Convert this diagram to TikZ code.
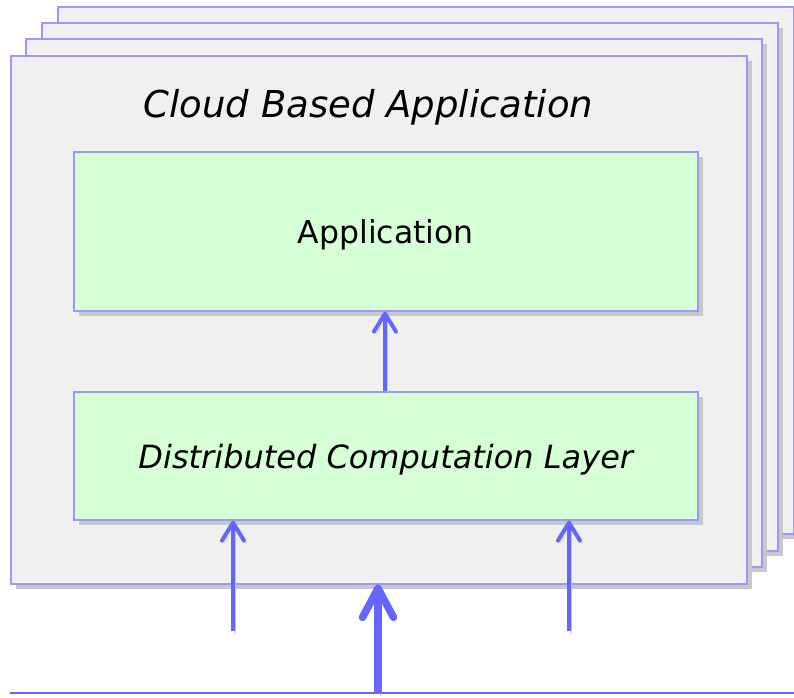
\documentclass[tikz,border=0pt]{standalone}
\usepackage{fontspec}
\setmainfont{DejaVu Sans}
\usetikzlibrary{arrows.meta,shadows}
\definecolor{edgeblue}{HTML}{9999FF}
\definecolor{arrowblue}{HTML}{6666FF}
\definecolor{panelgray}{HTML}{F0F0F0}
\definecolor{layergreen}{HTML}{D6FFD6}
\definecolor{shadowgray}{HTML}{C8C8C8}
\tikzset{
  panel/.style={draw=edgeblue, line width=1.6pt, fill=panelgray,
    general shadow={fill=shadowgray, shadow xshift=5pt, shadow yshift=-5pt}},
  layerbox/.style={draw=edgeblue, line width=1.6pt, fill=layergreen,
    general shadow={fill=shadowgray, shadow xshift=5pt, shadow yshift=-5pt},
    minimum width=624pt, anchor=north west, inner sep=0pt,
    text height=24.5pt, text depth=0pt},
  dropshade/.style={preaction={draw=shadowgray, transform canvas={shift={(2pt,-3pt)}}}},
  flow/.style={dropshade, draw=arrowblue, line width=4pt,
    -{Straight Barb[length=18pt,width=22pt,line cap=round,line join=round]}},
  bigflow/.style={dropshade, draw=arrowblue, line width=7.5pt,
    -{Straight Barb[length=29pt,width=31pt,line cap=round,line join=round]}},
}
\begin{document}
\begin{tikzpicture}[x=1pt,y=-1pt]
  \useasboundingbox (0,0) rectangle (794,697);
  % stacked instances, back to front
  \draw[panel] (58,7) rectangle (794,534);
  \draw[panel] (42,23) rectangle (778,551);
  \draw[panel] (26,39) rectangle (762,567);
  \node[panel, minimum width=736pt, minimum height=528pt, anchor=north west, inner sep=0pt]
    (cloud) at (10,55) {};
  \node[font=\fontsize{37}{40}\selectfont\itshape, anchor=base, inner sep=0pt]
    (title) at (368.5,117) {Cloud Based Application};
  % layers
  \node[layerbox, minimum height=159pt, font=\fontsize{31.5}{36}\selectfont]
    (app) at (73,151) {Application};
  \node[layerbox, minimum height=128pt, font=\fontsize{32}{36}\selectfont\itshape]
    (dcl) at (73,391) {Distributed Computation Layer};
  % base line and input points
  \coordinate (baseL) at (10,693);
  \coordinate (baseR) at (794,693);
  \coordinate (inL) at (233,631);
  \coordinate (inR) at (569,631);
  \coordinate (inC) at (378,693);
  \draw[draw=arrowblue, line width=2.5pt] (baseL) -- (baseR);
  % flows
  \draw[flow] (dcl.north -| 385,0) -- (app.south -| 385,0);
  \draw[flow] (inL) -- (dcl.south -| inL);
  \draw[flow] (inR) -- (dcl.south -| inR);
  \draw[bigflow] (inC) -- (cloud.south -| inC);
\end{tikzpicture}
\end{document}
